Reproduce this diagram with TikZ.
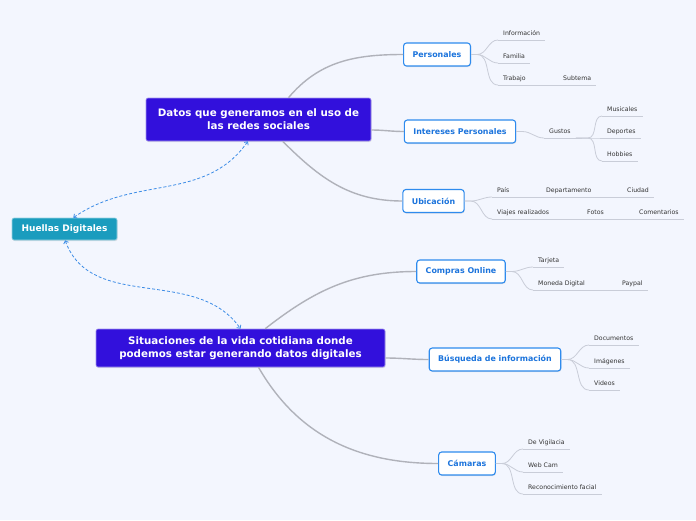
\documentclass[tikz,border=0pt]{standalone}
\usepackage{fontspec}
\setmainfont{DejaVu Sans}
\usetikzlibrary{arrows.meta,shadows}
\definecolor{pageBg}{HTML}{F3F6FE}
\definecolor{mainV}{HTML}{3210DC}
\definecolor{huellaT}{HTML}{1A9CBE}
\definecolor{subB}{HTML}{2E8BEE}
\definecolor{subT}{HTML}{1C74DC}
\definecolor{branchG}{HTML}{B0B2BA}
\definecolor{twigG}{HTML}{C9CDD8}
\definecolor{leafT}{HTML}{333333}
\definecolor{linkB}{HTML}{3C8CE6}

\begin{document}
\begin{tikzpicture}[x=1pt, y=1pt,
  mainN/.style={fill=mainV, draw=mainV!45!white, line width=0.6pt, rounded corners=2pt,
    text=white, align=center, drop shadow={opacity=0.2, shadow xshift=0.6pt, shadow yshift=-1pt},
    font=\fontsize{10.3}{13}\selectfont\bfseries},
  subN/.style={fill=white, draw=subB, line width=1.1pt, rounded corners=3pt, text=subT,
    inner xsep=9pt, minimum height=23pt, drop shadow={opacity=0.2, shadow xshift=0.6pt, shadow yshift=-1pt},
    font=\fontsize{7.9}{9}\selectfont\bfseries},
  twig/.style={draw=twigG, line width=0.8pt},
  branch/.style={draw=branchG, line width=1.4pt},
  leaf/.style={anchor=south west, inner xsep=5pt, inner ysep=4.5pt, text depth=0pt, text=leafT,
    font=\fontsize{6.2}{7}\selectfont,
    append after command={(\tikzlastnode.south west) edge[twig] (\tikzlastnode.south east)}},
  link/.style={draw=linkB, line width=0.8pt, dash pattern=on 3pt off 2pt,
    {Straight Barb[length=2.5pt,width=5pt]}-{Straight Barb[length=2.5pt,width=5pt]}}]
  \path[use as bounding box, fill=pageBg] (0,0) rectangle (696,-520);

  % central topics
  \node[mainN, minimum width=225pt, minimum height=43pt] (datos) at (258.5,-119.5)
    {Datos que generamos en el uso de\\las redes sociales};
  \node[mainN, minimum width=289pt, minimum height=38pt] (situ) at (240.5,-348)
    {Situaciones de la vida cotidiana donde\\podemos estar generando datos digitales};
  \node[mainN, fill=huellaT, draw=huellaT!45!white, minimum width=105pt, minimum height=22pt,
    font=\fontsize{9}{10}\selectfont\bfseries] (huellas) at (64.5,-229) {Huellas Digitales};

  \draw[link] (huellas.52) to[out=35, in=-125] (datos.-116);
  \draw[link] (huellas.-87) to[out=-70, in=125] (situ.north);

  % subtopics
  \node[subN] (per) at (437,-54.5) {Personales};
  \node[subN] (inte) at (460,-131.5) {Intereses Personales};
  \node[subN] (ubi) at (433.5,-201) {Ubicación};
  \node[subN] (comp) at (461,-271.5) {Compras Online};
  \node[subN] (busq) at (495,-359.5) {Búsqueda de información};
  \node[subN] (cam) at (467,-463.5) {Cámaras};

  \draw[branch] (datos.36) to[out=50, in=180] (per.west);
  \draw[branch] (datos.east |- 0,-130) to[out=0, in=180] (inte.west);
  \draw[branch] (datos.-42) to[out=-45, in=180] (ubi.west);
  \draw[branch] (situ.38) to[out=38, in=180] (comp.west);
  \draw[branch] (situ.east |- 0,-358) to[out=0, in=180] (busq.west);
  \draw[branch] (situ.-47) to[out=-60, in=180] (cam.west);

  % leaves
  \foreach \n/\t/\y in {inf/Información/40, fam/Familia/63, tra/Trabajo/85}{
    \node[leaf] (\n) at (498,-\y) {\t};
    \draw[twig] (per.east) -- ++(6,0) to[out=0, in=180] (\n.south west);
  }
  \node[leaf] (subt) at (558,-85) {Subtema};
  \draw[twig] (tra.south east) -- (subt.south west);

  \node[leaf] (gus) at (544,-138) {Gustos};
  \draw[twig] (inte.east) -- ++(6,0) to[out=0, in=180] (gus.south west);
  \foreach \n/\t/\y in {mus/Musicales/116, dep/Deportes/138, hob/Hobbies/161}{
    \node[leaf] (\n) at (602,-\y) {\t};
    \draw[twig] (gus.south east) -- ++(12,0) to[out=0, in=180] (\n.south west);
  }

  \node[leaf] (pais) at (492,-197) {País};
  \node[leaf] (dpto) at (541,-197) {Departamento};
  \node[leaf] (ciu) at (622,-197) {Ciudad};
  \node[leaf] (via) at (492,-219) {Viajes realizados};
  \node[leaf] (fot) at (582,-219) {Fotos};
  \node[leaf] (com) at (634,-219) {Comentarios};
  \foreach \n in {pais,via}
    \draw[twig] (ubi.east) -- ++(6,0) to[out=0, in=180] (\n.south west);
  \draw[twig] (pais.south east) -- (dpto.south west) (dpto.south east) -- (ciu.south west);
  \draw[twig] (via.south east) -- (fot.south west) (fot.south east) -- (com.south west);

  \node[leaf] (tarj) at (533,-267) {Tarjeta};
  \node[leaf] (mon) at (533,-290) {Moneda Digital};
  \node[leaf] (pay) at (617,-290) {Paypal};
  \foreach \n in {tarj,mon}
    \draw[twig] (comp.east) -- ++(6,0) to[out=0, in=180] (\n.south west);
  \draw[twig] (mon.south east) -- (pay.south west);

  \foreach \n/\t/\y in {doc/Documentos/345, img/Imágenes/368, vid/Videos/390}{
    \node[leaf] (\n) at (589,-\y) {\t};
    \draw[twig] (busq.east) -- ++(6,0) to[out=0, in=180] (\n.south west);
  }

  \foreach \n/\t/\y in {vig/De Vigilacia/449, web/Web Cam/472, rec/Reconocimiento facial/494}{
    \node[leaf] (\n) at (523,-\y) {\t};
    \draw[twig] (cam.east) -- ++(6,0) to[out=0, in=180] (\n.south west);
  }
\end{tikzpicture}
\end{document}
